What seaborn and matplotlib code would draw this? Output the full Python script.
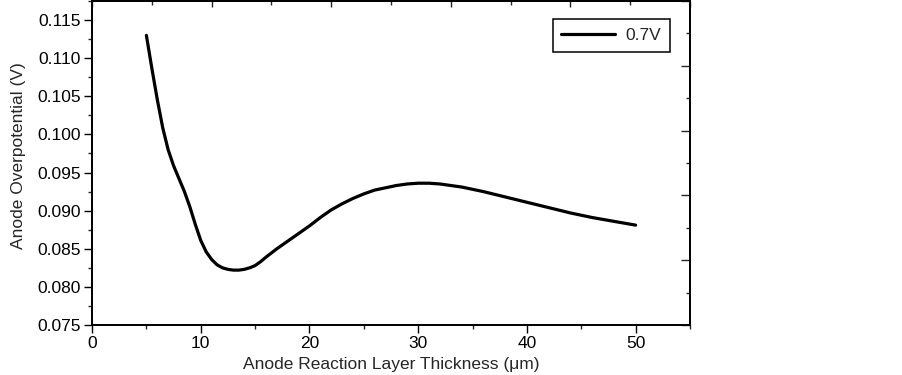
import matplotlib
matplotlib.use("Agg")
import matplotlib.pyplot as plt
import seaborn as sns
import pandas as pd
from matplotlib.ticker import MultipleLocator, FormatStrFormatter

# values
thickness = [5.0, 5.5, 6.0, 6.5, 7.0, 7.5, 8.0, 8.5, 9.0, 9.5, 10.0, 10.5, 11.0,
             11.5, 12.0, 12.5, 13.0, 13.5, 14.0, 14.5, 15.0, 15.5, 16.0, 17.0,
             18.0, 19.0, 20.0, 21.0, 22.0, 23.0, 24.0, 25.0, 26.0, 27.0, 28.0,
             29.0, 30.0, 31.0, 32.0, 33.0, 34.0, 35.0, 36.0, 38.0, 40.0, 42.0,
             44.0, 46.0, 48.0, 50.0]
overpotential = [0.1130, 0.1087, 0.1046, 0.1009, 0.0980, 0.0959, 0.0942, 0.0925,
                 0.0905, 0.0882, 0.0861, 0.0846, 0.0836, 0.0829, 0.0825, 0.0823,
                 0.0822, 0.0822, 0.0823, 0.0825, 0.0828, 0.0833, 0.0839, 0.0850,
                 0.0860, 0.0870, 0.0880, 0.0891, 0.0901, 0.0909, 0.0916, 0.0922,
                 0.0927, 0.0930, 0.0933, 0.0935, 0.0936, 0.0936, 0.0935, 0.0933,
                 0.0931, 0.0928, 0.0925, 0.0918, 0.0911, 0.0904, 0.0897, 0.0891,
                 0.0886, 0.0881]
series_label = "0.7V"

df = pd.DataFrame({"x": thickness, "y": overpotential, "s": series_label})

sns.set_style("ticks")
plt.rcParams["font.family"] = ["Liberation Sans", "DejaVu Sans"]
plt.rcParams["font.size"] = 12.5
plt.rcParams["lines.solid_joinstyle"] = "round"

fig = plt.figure(figsize=(9.03, 3.75), dpi=100)
ax = fig.add_axes([0.1019, 0.1333, 0.6622, 0.864])

sns.lineplot(data=df, x="x", y="y", hue="s", palette=["black"], linewidth=2.3,
             ax=ax, sort=False)

ax.set_xlim(0, 55)
ax.set_ylim(0.075, 0.1175)
ax.xaxis.set_major_locator(MultipleLocator(10))
ax.xaxis.set_minor_locator(MultipleLocator(5))
ax.yaxis.set_major_locator(MultipleLocator(0.005))
ax.yaxis.set_minor_locator(MultipleLocator(0.0025))
ax.yaxis.set_major_formatter(FormatStrFormatter("%.3f"))
ax.set_xlabel("Anode Reaction Layer Thickness (\u03bcm)", fontsize=12.5, labelpad=4)
ax.set_ylabel("Anode Overpotential (V)", fontsize=12.5)
ax.yaxis.set_label_coords(-0.111, 0.522)
ax.tick_params(which="major", direction="out", length=5.5, width=1.0, labelsize=12.5,
               colors="black", pad=2.5)
ax.tick_params(which="minor", direction="out", length=3, width=1.0)
for sp in ax.spines.values():
    sp.set_linewidth(1.1)
    sp.set_color("black")
    sp.set_visible(True)

# top and right ticks (independent, evenly spaced)
ax_top = ax.twiny()
ax_top.set_xlim(0, 10)
ax_top.xaxis.set_major_locator(MultipleLocator(2))
ax_top.xaxis.set_minor_locator(MultipleLocator(1))
ax_top.tick_params(axis="x", which="major", direction="in", length=4, width=1.0, labeltop=False)
ax_top.tick_params(axis="x", which="minor", direction="in", length=3, width=1.0)

ax_right = ax.twinx()
ax_right.set_ylim(0, 10)
ax_right.yaxis.set_major_locator(MultipleLocator(2))
ax_right.yaxis.set_minor_locator(MultipleLocator(1))
ax_right.tick_params(axis="y", which="major", direction="in", length=6.5, width=1.0, labelright=False)
ax_right.tick_params(axis="y", which="minor", direction="in", length=3, width=1.0)
for a in (ax_top, ax_right):
    for sp in a.spines.values():
        sp.set_linewidth(1.1)
        sp.set_color("black")

leg = ax.legend(loc="upper right", bbox_to_anchor=(0.9666, 0.944), borderaxespad=0,
                fancybox=False, edgecolor="black", framealpha=1, fontsize=12.5,
                handlelength=3.1, borderpad=0.5, handletextpad=0.6, title=None)
leg.get_frame().set_linewidth(1.1)

fig.savefig("out.png", dpi=100)
